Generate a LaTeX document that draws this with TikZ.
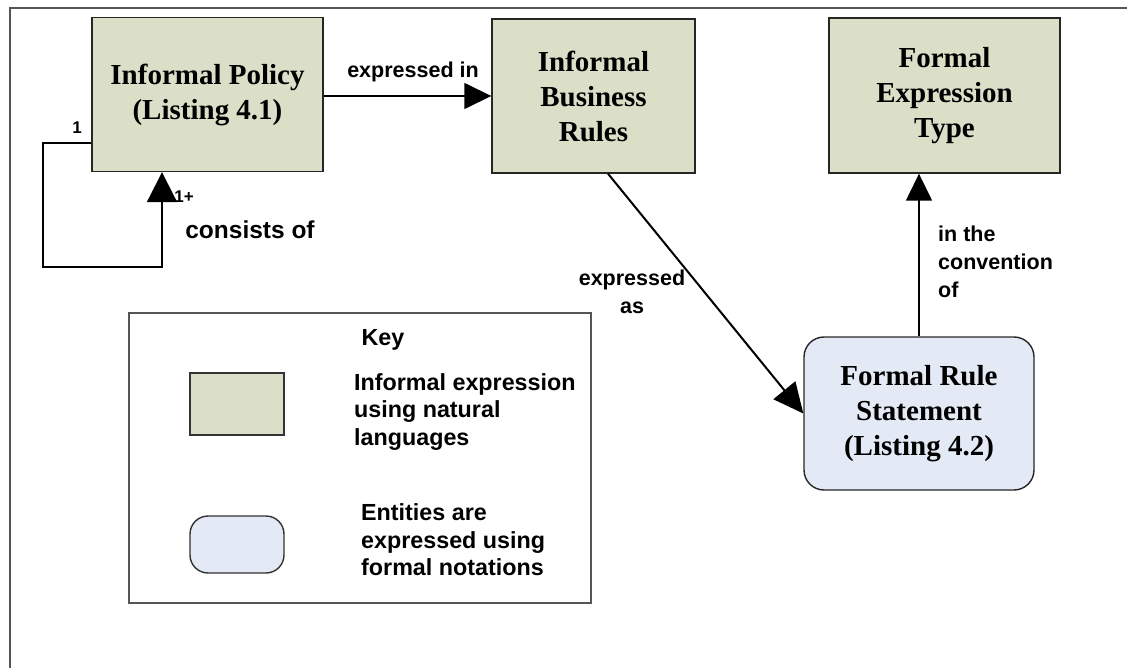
\documentclass[tikz,border=0pt]{standalone}
\usepackage{fontspec}
\setmainfont{Liberation Serif}
\newfontfamily\labelfont{Liberation Sans}
\usetikzlibrary{arrows.meta}
\definecolor{informal}{HTML}{DCDFC8}
\definecolor{formal}{HTML}{E4EAF5}
\definecolor{frame}{HTML}{555555}
\tikzset{
  x=1pt, y=-1pt,
  entity/.style={draw=black!85, line width=1.4pt, align=center, inner sep=0pt,
    font=\fontsize{29}{35}\selectfont\bfseries},
  greenbox/.style={entity, fill=informal},
  bluebox/.style={entity, fill=formal, rounded corners=20pt},
  conn/.style={line width=1.5pt, -{Triangle[length=27pt,width=26pt]}},
  lbl/.style={font=\labelfont\fontsize{21.5}{28}\selectfont\bfseries, inner sep=0pt},
  keytext/.style={font=\labelfont\fontsize{23.3}{27.5}\selectfont\bfseries, inner sep=0pt, align=left, anchor=west},
}
\begin{document}
\begin{tikzpicture}
\useasboundingbox (0,0) rectangle (1127,668);
% page frame
\draw[frame, line width=1.5pt] (10,668) -- (10,8) -- (1127,8);

% entities
\node[greenbox, minimum width=231pt, minimum height=154pt] (policy) at (207.5,94.5)
  {Informal Policy\\(Listing 4.1)};
\node[greenbox, minimum width=203pt, minimum height=154pt] (rules) at (593.5,96)
  {Informal\\Business\\Rules};
\node[greenbox, minimum width=231pt, minimum height=155pt] (fet) at (944.5,95.5)
  {Formal\\Expression\\Type};
\node[bluebox, minimum width=230pt, minimum height=153pt] (frs) at (919,413.5)
  {Formal Rule\\Statement\\(Listing 4.2)};

% connectors
\draw[conn] (policy.east |- rules.west) -- (rules.west);
\coordinate (loopA) at (43,143);
\coordinate (loopC) at (162,267);
\draw[conn, line width=2pt, -{Triangle[length=30pt,width=30pt]}]
  (policy.west |- loopA) -- (loopA) |- (loopC) -- (policy.south -| loopC);
\draw[conn, line width=2pt, -{Triangle[length=30pt,width=28pt]}]
  ([xshift=14.5pt]rules.south) -- (frs.west);
\draw[conn] (frs.north) -- (frs.north |- fet.south);

% connector labels
\node[lbl] (l1) at (413,72) {expressed in};
\node[lbl, font=\labelfont\fontsize{17}{20}\selectfont\bfseries] (l2) at (77,128) {1};
\node[lbl, font=\labelfont\fontsize{17}{20}\selectfont\bfseries] (l3) at (184,197) {1+};
\node[lbl, font=\labelfont\fontsize{24.5}{28}\selectfont\bfseries] (l4) at (250,230) {consists of};
\node[lbl, align=center] (l5) at (632,292) {expressed\\as};
\node[lbl, align=left, anchor=west] (l6) at (938,262) {in the\\convention\\of};

% key
\node[draw=frame, line width=1.5pt, minimum width=462pt, minimum height=290pt, inner sep=0pt]
  (key) at (360,458) {};
\node[keytext, anchor=center] (keyt) at (383,340) {Key};
\node[draw=black!80, line width=1.4pt, fill=informal, minimum width=94pt, minimum height=62pt,
  inner sep=0pt] (k1) at (237,404) {};
\node[draw=black!80, line width=1.4pt, fill=formal, rounded corners=18pt, minimum width=94pt,
  minimum height=57pt, inner sep=0pt] (k2) at (237,544.5) {};
\node[keytext] (k1t) at (354,412) {Informal expression\\using natural\\languages};
\node[keytext] (k2t) at (361,540) {Entities are\\expressed using\\formal notations};
\end{tikzpicture}
\end{document}
